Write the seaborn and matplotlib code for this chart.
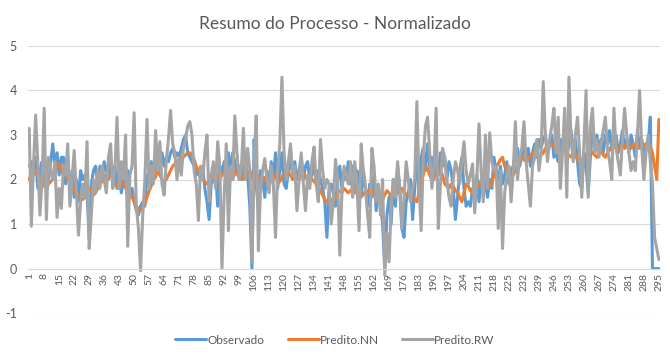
import numpy as np
import pandas as pd
import matplotlib
matplotlib.use("Agg")
import matplotlib.pyplot as plt
import seaborn as sns

title = "Resumo do Processo - Normalizado"
series_names = ["Observado", "Predito.NN", "Predito.RW"]
colors = ["#5B9BD5", "#ED7D31", "#A5A5A5"]

observado = [
    2.3, 2.4, 2.1, 2.5, 1.8, 2.2, 2.4, 1.9, 2.3, 2.0,
    2.4, 2.8, 2.3, 2.6, 2.1, 2.5, 2.5, 1.9, 2.3, 1.8,
    2.2, 1.6, 2.0, 1.5, 2.2, 2.0, 2.1, 1.7, 0.65, 1.9,
    2.2, 2.3, 1.9, 2.3, 2.0, 2.4, 2.2, 2.0, 2.4, 2.1,
    2.3, 1.8, 2.2, 1.7, 2.0, 1.9, 2.2, 1.6, 1.8, 1.5,
    1.3, 1.2, 1.4, 1.5, 1.4, 2.1, 2.0, 2.4, 2.1, 2.3,
    2.5, 2.2, 2.6, 2.3, 2.5, 2.4, 2.6, 2.7, 2.5, 2.6,
    2.5, 2.7, 2.9, 3.0, 2.6, 2.5, 2.4, 2.3, 2.1, 2.2,
    2.0, 2.3, 1.8, 1.5, 1.1, 1.9, 2.0, 2.2, 1.4, 2.3,
    2.1, 2.4, 2.0, 2.6, 2.2, 2.6, 2.4, 2.1, 2.3, 2.0,
    2.2, 2.4, 2.1, 1.4, 0.0, 2.9, 1.9, 1.3, 2.2, 2.0,
    1.6, 2.2, 1.8, 2.4, 2.0, 2.6, 1.8, 2.2, 2.6, 1.9,
    1.8, 2.2, 2.5, 2.1, 2.4, 2.0, 2.2, 2.5, 2.0, 2.3,
    2.4, 2.0, 2.1, 2.4, 1.9, 2.2, 2.0, 1.8, 1.5, 0.7,
    1.8, 1.9, 1.7, 1.4, 2.0, 2.3, 1.8, 2.2, 2.0, 2.4,
    1.9, 2.3, 1.7, 2.2, 2.0, 1.6, 2.2, 1.8, 1.4, 1.9,
    1.6, 2.1, 1.3, 1.8, 1.5, 1.0, 0.0, 1.2, 1.6, 1.0,
    2.0, 1.4, 2.3, 1.8, 0.9, 0.7, 1.5, 1.7, 2.0, 1.1,
    1.8, 2.8, 1.6, 2.5, 2.7, 2.2, 2.8, 2.3, 2.5, 2.0,
    2.4, 2.1, 2.6, 2.3, 2.5, 2.0, 2.4, 2.2, 1.8, 1.1,
    1.6, 2.2, 2.5, 1.8, 1.4, 1.5, 1.4, 1.8, 1.6, 2.1,
    1.5, 2.0, 1.7, 1.9, 1.6, 2.0, 1.8, 2.5, 2.2, 2.0,
    2.3, 1.9, 2.1, 2.4, 1.9, 2.2, 2.3, 2.6, 2.7, 2.3,
    2.5, 2.8, 2.4, 2.7, 2.3, 2.6, 2.8, 2.5, 2.9, 2.7,
    2.9, 3.0, 2.6, 2.8, 3.0, 2.5, 2.6, 2.4, 2.9, 2.6,
    3.0, 2.5, 2.8, 3.1, 2.6, 2.9, 2.4, 1.9, 1.8, 2.6,
    2.3, 1.7, 2.5, 3.1, 2.8, 3.0, 2.7, 2.9, 2.6, 3.0,
    2.8, 3.1, 2.7, 2.9, 3.0, 2.6, 2.8, 3.1, 2.7, 2.9,
    2.6, 3.0, 2.8, 2.5, 3.1, 2.7, 2.9, 2.4, 2.8, 2.8,
    3.4, 0.0, 0.0, 0.0, 0.0,
]

predito_nn = [
    2.0, 2.15, 2.25, 2.2, 2.1, 2.0, 1.9, 1.85, 1.8, 1.9,
    1.95, 2.0, 2.1, 2.3, 2.35, 2.2, 2.1, 2.15, 2.0, 1.95,
    1.85, 1.75, 1.7, 1.65, 1.6, 1.55, 1.6, 1.7, 1.8, 1.75,
    1.65, 1.7, 1.8, 1.9, 1.95, 2.0, 2.1, 2.05, 2.1, 2.0,
    1.9, 1.85, 1.8, 1.95, 1.9, 1.8, 1.75, 1.7, 1.6, 1.5,
    1.4, 1.35, 1.3, 1.35, 1.45, 1.6, 1.75, 1.85, 2.0, 2.05,
    2.2, 2.1, 2.0, 1.95, 2.0, 2.1, 2.2, 2.3, 2.35, 2.4,
    2.45, 2.5, 2.5, 2.55, 2.6, 2.6, 2.55, 2.45, 2.3, 2.2,
    2.1, 2.0, 1.95, 1.9, 1.95, 2.05, 2.1, 2.15, 2.1, 2.0,
    2.1, 2.15, 2.2, 2.15, 2.1, 2.0, 2.2, 2.15, 2.05, 2.1,
    2.0, 2.05, 2.1, 2.2, 2.1, 1.9, 2.0, 2.1, 1.95, 2.0,
    2.05, 1.9, 2.0, 1.95, 2.0, 2.1, 2.0, 1.95, 2.05, 2.15,
    2.2, 2.15, 2.1, 2.0, 2.05, 2.1, 2.0, 2.1, 2.15, 2.05,
    2.0, 2.1, 2.0, 1.95, 1.9, 1.85, 1.75, 1.65, 1.55, 1.5,
    1.5, 1.55, 1.5, 1.6, 1.7, 1.75, 1.7, 1.8, 1.75, 1.7,
    1.75, 1.8, 1.7, 1.75, 1.8, 1.7, 1.65, 1.75, 1.7, 1.8,
    1.75, 1.65, 1.6, 1.7, 1.6, 1.55, 1.65, 1.75, 1.7, 1.6,
    1.75, 1.8, 1.7, 1.75, 1.8, 1.7, 1.65, 1.7, 1.75, 1.6,
    1.55, 1.5, 1.7, 2.0, 2.1, 2.3, 2.25, 2.1, 2.0, 2.05,
    2.1, 2.15, 2.2, 2.1, 1.9, 1.85, 1.8, 1.9, 1.85, 1.75,
    1.7, 1.6, 1.5, 1.7, 1.9, 1.85, 1.75, 1.7, 1.8, 1.85,
    1.9, 1.95, 2.0, 1.95, 1.9, 1.85, 1.9, 2.1, 2.3, 2.35,
    2.45, 2.5, 2.3, 2.2, 2.1, 2.15, 2.1, 2.2, 2.35, 2.4,
    2.5, 2.45, 2.4, 2.45, 2.5, 2.6, 2.55, 2.6, 2.5, 2.55,
    2.6, 2.7, 2.65, 2.75, 2.8, 2.75, 2.7, 2.6, 2.55, 2.65,
    2.7, 2.6, 2.55, 2.5, 2.6, 2.55, 2.45, 2.4, 2.45, 2.5,
    2.55, 2.6, 2.65, 2.6, 2.55, 2.5, 2.6, 2.65, 2.55, 2.5,
    2.6, 2.7, 2.65, 2.75, 2.7, 2.65, 2.75, 2.8, 2.7, 2.8,
    2.75, 2.7, 2.8, 2.75, 2.7, 2.8, 2.85, 2.75, 2.8, 2.7,
    2.75, 2.6, 2.3, 2.0, 3.35,
]

predito_rw = [
    3.15, 0.95, 2.3, 3.45, 2.4, 1.2, 2.0, 3.6, 1.1, 2.5,
    2.2, 2.0, 2.4, 1.15, 1.8, 1.35, 2.3, 2.1, 2.8, 1.4,
    2.0, 2.65, 1.7, 0.75, 1.5, 1.9, 1.6, 2.85, 0.45, 1.2,
    2.0, 1.7, 2.2, 1.8, 2.3, 2.0, 1.7, 2.5, 2.8, 1.8,
    2.2, 3.4, 1.8, 2.4, 2.0, 3.0, 0.5, 2.1, 2.3, 3.5,
    1.4, 0.9, -0.05, 1.2, 2.0, 3.35, 1.8, 2.3, 1.9, 3.1,
    2.2, 2.85, 1.9, 1.65, 2.4, 2.9, 3.55, 2.8, 2.6, 2.0,
    2.5, 2.1, 2.7, 2.9, 3.2, 3.3, 3.0, 2.2, 1.9, 1.08,
    2.3, 2.0, 2.6, 3.0, 1.5, 2.1, 2.4, 1.8, 2.85, 2.3,
    0.0, 1.6, 2.8, 0.85, 2.3, 2.0, 3.43, 2.6, 2.0, 2.2,
    3.15, 2.0, 2.7, 2.2, 0.15, 2.4, 3.43, 0.4, 1.8, 2.2,
    2.47, 2.0, 1.7, 2.3, 1.9, 0.7, 2.2, 2.8, 4.3, 2.6,
    2.0, 2.4, 2.8, 2.1, 2.3, 1.3, 2.0, 2.6, 1.9, 1.3,
    2.1, 1.8, 2.4, 2.73, 1.9, 1.5, 2.9, 2.2, 1.8, 2.0,
    1.9, 1.0, 1.5, 2.45, 2.0, 0.3, 1.7, 2.3, 2.1, 1.9,
    2.4, 1.6, 2.4, 1.9, 0.85, 2.8, 2.2, 1.8, 1.2, 0.7,
    2.7, 2.3, 1.5, 1.9, 1.2, 2.0, -0.15, 0.8, 0.15, 1.4,
    2.0, 1.6, 2.4, 1.8, 0.9, 1.6, 2.4, 2.0, 1.5, 1.8,
    2.0, 3.75, 1.9, 0.85, 2.5, 3.2, 3.4, 2.6, 1.8, 2.3,
    3.6, 0.9, 1.9, 2.7, 2.5, 2.0, 1.6, 1.4, 2.0, 2.4,
    2.2, 1.9, 2.4, 2.85, 2.2, 1.9, 2.1, 2.35, 1.25, 2.0,
    3.25, 2.2, 1.5, 3.0, 1.8, 3.05, 2.4, 2.2, 2.3, 0.9,
    2.2, 0.45, 1.7, 2.1, 2.3, 1.5, 2.2, 3.3, 2.0, 2.5,
    2.7, 3.3, 2.4, 1.9, 1.4, 2.3, 2.5, 2.9, 2.2, 2.6,
    4.2, 3.0, 2.4, 2.9, 3.2, 3.6, 2.6, 3.4, 1.8, 2.6,
    3.6, 1.6, 4.3, 2.9, 2.4, 3.0, 3.4, 2.6, 1.6, 2.8,
    4.0, 1.6, 3.2, 3.6, 2.6, 2.9, 2.5, 2.8, 3.1, 3.4,
    2.7, 2.4, 2.0, 3.6, 2.7, 2.4, 2.1, 2.9, 3.6, 3.0,
    2.6, 2.2, 2.4, 2.2, 3.0, 4.0, 2.7, 2.0, 2.6, 3.0,
    2.4, 1.9, 0.7, 0.45, 0.2,
]

n = len(observado)
periods = list(range(1, n + 1))
tick_positions = list(range(1, n + 1, 7))
y_ticks = [-1, 0, 1, 2, 3, 4, 5]

df = pd.DataFrame({
    "Período": periods * 3,
    "Valor": observado + predito_nn + predito_rw,
    "Série": [series_names[0]] * n + [series_names[1]] * n + [series_names[2]] * n,
})

sns.set_theme(style="white")
plt.rcParams["font.family"] = ["Lato", "DejaVu Sans"]
text_color = "#595959"

fig = plt.figure(figsize=(6.7, 3.59), dpi=100)
ax = fig.add_axes([0.042, 0.128, 0.943, 0.744])

sns.lineplot(data=df, x="Período", y="Valor", hue="Série",
             palette=dict(zip(series_names, colors)), hue_order=series_names,
             linewidth=2.2, errorbar=None, sort=False, ax=ax, legend=False)

# axis position first (it resets the tick objects)
for s in ["top", "right", "left"]:
    ax.spines[s].set_visible(False)
ax.spines["bottom"].set_position(("data", 0))
ax.spines["bottom"].set_color("#d9d9d9")
ax.spines["bottom"].set_linewidth(0.8)

ax.set_xlim(0.5, n + 0.5)
ax.set_ylim(-1, 5)
ax.set_yticks(y_ticks)
ax.set_yticklabels([str(v) for v in y_ticks])
ax.set_xticks(tick_positions)
ax.set_xticklabels([str(t) for t in tick_positions])
ax.tick_params(axis="x", labelrotation=90, labelsize=7.5, labelcolor=text_color,
               length=0, pad=3)
ax.tick_params(axis="y", labelsize=9, labelcolor=text_color, length=0, pad=8)
ax.grid(axis="y", color="#d9d9d9", linewidth=0.8)
ax.set_axisbelow(True)
ax.set_xlabel("")
ax.set_ylabel("")

fig.suptitle(title, x=0.5, y=0.955, color=text_color, fontsize=12.5)

handles = [plt.Line2D([0], [0], color=c, linewidth=2.2) for c in colors]
leg = fig.legend(handles, series_names, loc="center",
                 bbox_to_anchor=(0.5, 1 - 340 / 359), ncol=3, frameon=False,
                 fontsize=8.5, handlelength=2.6, handletextpad=0.1,
                 columnspacing=2.0)
for t in leg.get_texts():
    t.set_color(text_color)

fig.savefig("out.png", dpi=100)
